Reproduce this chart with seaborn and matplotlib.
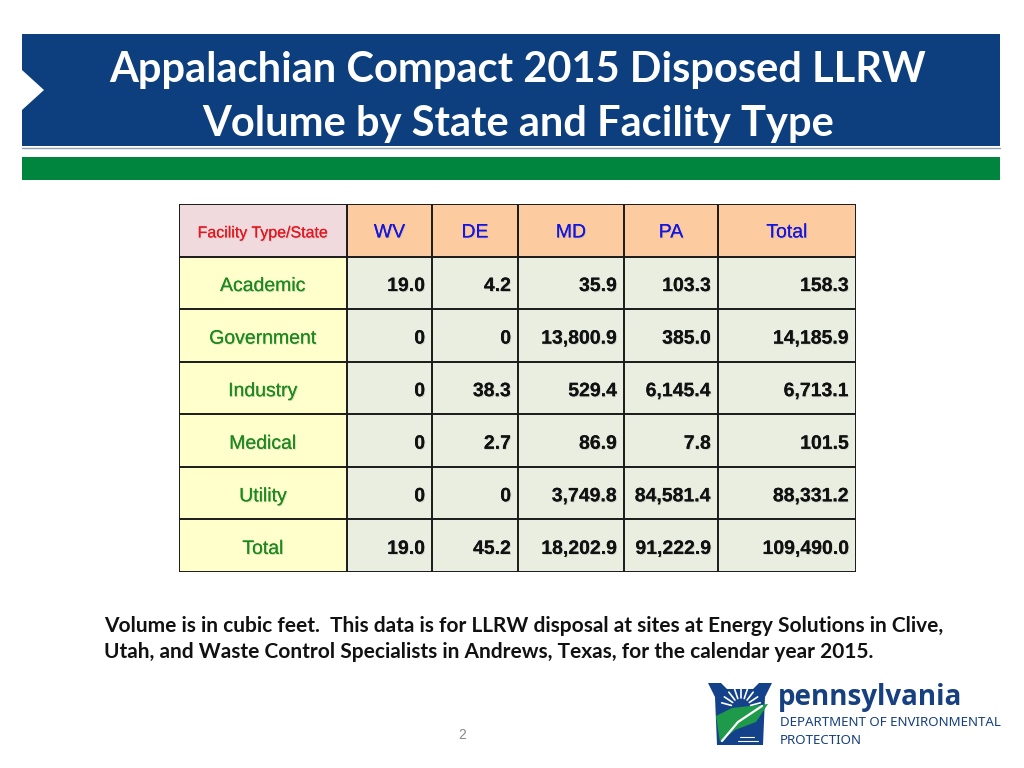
import numpy as np
import matplotlib
matplotlib.use("Agg")
import matplotlib.pyplot as plt
import matplotlib.patheffects as pe
from matplotlib.colors import ListedColormap
from matplotlib.patches import Polygon, Rectangle, Wedge
import seaborn as sns

# Data
states = ["WV", "DE", "MD", "PA", "Total"]
facility_types = ["Academic", "Government", "Industry", "Medical", "Utility", "Total"]
wv = [19.0, 0, 0, 0, 0, 19.0]
de = [4.2, 0, 38.3, 2.7, 0, 45.2]
md = [35.9, 13800.9, 529.4, 86.9, 3749.8, 18202.9]
pa = [103.3, 385.0, 6145.4, 7.8, 84581.4, 91222.9]
total = [158.3, 14185.9, 6713.1, 101.5, 88331.2, 109490.0]

title = "Appalachian Compact 2015 Disposed LLRW\nVolume by State and Facility Type"
note = ("Volume is in cubic feet.  This data is for LLRW disposal at sites at Energy Solutions in Clive,\n"
        "Utah, and Waste Control Specialists in Andrews, Texas, for the calendar year 2015.")


def fmt(v):
    return "0" if v == 0 else f"{v:,.1f}"


sns.set_theme(style="white")
plt.rcParams["font.family"] = ["Liberation Sans", "DejaVu Sans"]

fig = plt.figure(figsize=(10.24, 7.68), dpi=100)
bg = fig.add_axes([0, 0, 1, 1])
bg.set_xlim(0, 1024)
bg.set_ylim(768, 0)
bg.axis("off")

navy = "#0d3f7f"
green = "#00853e"
shadow = [pe.withSimplePatchShadow(offset=(0.7, -0.7), shadow_rgbFace="#999999", alpha=0.35), pe.Normal()]

# title banner with the white notch on the left
bg.add_patch(Polygon([(22, 34), (1000, 34), (1000, 146), (22, 146), (22, 110),
                      (44, 90), (22, 70)], closed=True, color=navy, lw=0))
bg.plot([22, 1000], [147.5, 147.5], color="#8da0b8", lw=1)
bg.add_patch(Rectangle((22, 157), 978, 23, color=green, lw=0))
bg.text(518, 97, title, ha="center", va="center", color="white", fontsize=30,
        fontweight="bold", family="Lato", linespacing=1.52)

# table as a heatmap of cell kinds, columns stretched to their widths
col_w = [168, 85, 86, 106, 94, 138]
kinds = np.full((7, 6), 3)
kinds[0, :] = 1
kinds[0, 0] = 0
kinds[1:, 0] = 2
grid = np.repeat(kinds, col_w, axis=1)
cell_cols = ["#f0dadd", "#fccca0", "#ffffcc", "#e9eee0"]

tx0, ty0, tx1, ty1 = 179, 204, 856, 572
tax = fig.add_axes([tx0 / 1024, 1 - ty1 / 768, (tx1 - tx0) / 1024, (ty1 - ty0) / 768])
sns.heatmap(grid, cmap=ListedColormap(cell_cols), vmin=-0.5, vmax=3.5, cbar=False,
            xticklabels=False, yticklabels=False, ax=tax)
edges = np.concatenate([[0], np.cumsum(col_w)])
for e in edges:
    tax.axvline(e, color="#1a1a1a", lw=1.4)
for r in range(8):
    tax.axhline(r, color="#1a1a1a", lw=1.4)
tax.set_xlim(0, edges[-1])
tax.set_ylim(7, 0)

tax.text(edges[0] + col_w[0] / 2, 0.55, "Facility Type/State", ha="center", va="center",
         color="#e8141e", fontsize=11.5, path_effects=shadow)
for j, s in enumerate(states):
    tax.text(edges[j + 1] + col_w[j + 1] / 2, 0.55, s, ha="center", va="center",
             color="#1515e0", fontsize=14, path_effects=shadow)

columns = [wv, de, md, pa, total]
for i, ft in enumerate(facility_types):
    tax.text(edges[0] + col_w[0] / 2, i + 1.57, ft, ha="center", va="center",
             color="#1d8a1d", fontsize=14, path_effects=shadow)
    for j, vals in enumerate(columns):
        tax.text(edges[j + 2] - 7, i + 1.57, fmt(vals[i]), ha="right", va="center",
                 color="#111111", fontsize=14, fontweight="bold", path_effects=shadow)

# footnote
bg.text(104, 639, note, ha="left", va="center", color="#111111", fontsize=15,
        fontweight="bold", family="Lato", linespacing=1.42)

# page number
bg.text(462, 735, "2", ha="center", va="center", color="#888888", fontsize=10)

# simple keystone logo
bg.add_patch(Polygon([(708, 683), (721, 683), (727, 689), (753, 689), (759, 683),
                      (772, 683), (765, 697), (763, 745), (717, 745), (715, 697)],
                     closed=True, color="#14428a", lw=0))
bg.add_patch(Wedge((741, 708), 9, 0, 180, color="white", lw=0))
for a in np.linspace(15, 165, 9):
    r = np.deg2rad(a)
    bg.plot([741 + 10 * np.cos(r), 741 + 20 * np.cos(r)],
            [708 - 10 * np.sin(r), 708 - 20 * np.sin(r)], color="white", lw=1.2)
bg.add_patch(Polygon([(716, 716), (732, 708), (768, 704), (756, 722), (735, 730),
                      (720, 742)], closed=True, color="#1f9a4a", lw=0))
bg.plot([722, 738, 762], [741, 722, 706], color="white", lw=1.6)
bg.plot([740, 754], [737, 737], color="white", lw=0.8)
bg.plot([738, 758], [741, 741], color="white", lw=0.8)
bg.text(778, 697, "pennsylvania", ha="left", va="center", color="#16407f", fontsize=20,
        fontweight="bold", family="Open Sans")
bg.text(780, 723, "DEPARTMENT OF ENVIRONMENTAL", ha="left", va="center", color="#16407f",
        fontsize=9.6, family="Noto Sans")
bg.text(780, 740, "PROTECTION", ha="left", va="center", color="#16407f",
        fontsize=9.6, family="Noto Sans")

fig.savefig("out.png", dpi=100)
